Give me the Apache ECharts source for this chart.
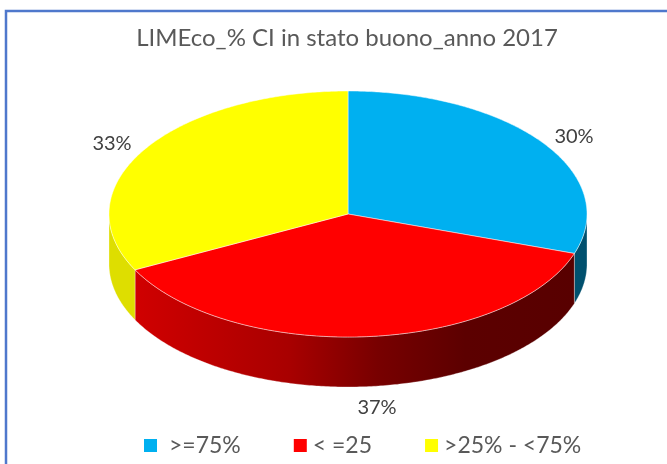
<!DOCTYPE html>
<html>
<head>
<meta charset="utf-8">
<style>
    html, body {margin: 0; background: #fff;}
    #chart {width: 667px; height: 464px;}
</style>
<script src="https://cdn.jsdelivr.net/npm/echarts@6/dist/echarts.min.js"></script>
</head>
<body>
<div id="chart"></div>
<script>
const categories = ['>=75%', '< =25', '>25% - <75%'];
const values = [30.2, 37.3, 32.5];

const colors = ['#00b0f0', '#ff0000', '#ffff00'];
const disc = {cx: 348, cy: 214, rx: 239, ry: 123, depth: 50};
const labelCenters = [[574, 137], [377, 408], [112, 144]];
const sideFills = [
    '#00506e',
    new echarts.graphic.LinearGradient(136, 0, 575, 0, [
        {offset: 0, color: '#d00000'},
        {offset: 0.35, color: '#a80000'},
        {offset: 0.55, color: '#780000'},
        {offset: 0.75, color: '#5c0000'},
        {offset: 1, color: '#580000'},
    ], true),
    '#dede00',
];

const total = values.reduce((a, b) => a + b, 0);


function rimPoint(a, drop=0) {
    // a is clockwise radians from 12 o'clock
    return [
        disc.cx + disc.rx * Math.sin(a),
        disc.cy - disc.ry * Math.cos(a) + drop,
    ];
}


function arcPoints(from, to, drop=0) {
    const pts = [];
    const steps = Math.max(2, Math.ceil((to - from) / 0.01));
    for (let i = 0; i <= steps; i++) {
        pts.push(rimPoint(from + (to - from) * i / steps, drop));
    }
    return pts;
}


function sliceAngles(idx) {
    const before = values.slice(0, idx).reduce((a, b) => a + b, 0);
    const toAngle = x => x / total * Math.PI * 2;
    return [toAngle(before), toAngle(before + values[idx])];
}


function renderSlice(idx) {
    const [start, end] = sliceAngles(idx);
    const children = [];
    // Only the front half of the rim (3 to 9 o'clock) shows its wall.
    const wallFrom = Math.max(start, Math.PI / 2);
    const wallTo = Math.min(end, Math.PI * 1.5);
    if (wallTo > wallFrom) {
        const wall = arcPoints(wallFrom, wallTo).concat(arcPoints(wallFrom, wallTo, disc.depth).reverse());
        children.push({
            type: 'polygon',
            shape: {points: wall},
            style: {fill: sideFills[idx], stroke: 'rgba(255,255,255,0.45)', lineWidth: 0.7},
        });
    }
    const top = [[disc.cx, disc.cy]].concat(arcPoints(start, end));
    children.push({
        type: 'polygon',
        shape: {points: top},
        style: {fill: colors[idx], stroke: 'rgba(255,255,255,0.6)', lineWidth: 0.8},
    });
    children.push({
        type: 'text',
        x: labelCenters[idx][0],
        y: labelCenters[idx][1],
        style: {
            text: Math.round(values[idx]) + '%',
            fill: '#404040',
            fontFamily: 'Lato',
            fontSize: 20,
            align: 'center',
            verticalAlign: 'middle',
        },
    });
    return {type: 'group', children};
}


const chart = echarts.init(document.getElementById('chart'), null, {renderer: 'canvas'});
chart.setOption({
    animation: false,
    backgroundColor: '#fff',
    title: {
        text: 'LIMEco_% CI in stato buono_anno 2017',
        left: 342,
        top: 21,
        textAlign: 'center',
        textStyle: {fontFamily: 'Lato', fontWeight: 'normal', fontSize: 24, color: '#595959'},
    },
    legend: {
        left: 144,
        top: 434,
        padding: 0,
        icon: 'rect',
        itemWidth: 13,
        itemHeight: 13,
        itemGap: 53,
        textStyle: {fontFamily: 'Lato', fontSize: 23, color: '#595959', padding: [0, 0, 0, 1]},
        data: categories.map((name, i) => ({
            name,
            textStyle: i === 0 ? {padding: [0, 0, 0, 7]} : undefined,
        })),
    },
    graphic: [{
        type: 'rect',
        silent: true,
        z: 100,
        shape: {x: 6, y: 11, width: 700, height: 500},
        style: {fill: 'none', stroke: '#4f78cc', lineWidth: 2.5},
    }],
    series: categories.map((name, i) => ({
        type: 'custom',
        name,
        coordinateSystem: 'none',
        itemStyle: {color: colors[i]},
        data: [values[i]],
        renderItem: () => renderSlice(i),
    })),
});
</script>
</body>
</html>
